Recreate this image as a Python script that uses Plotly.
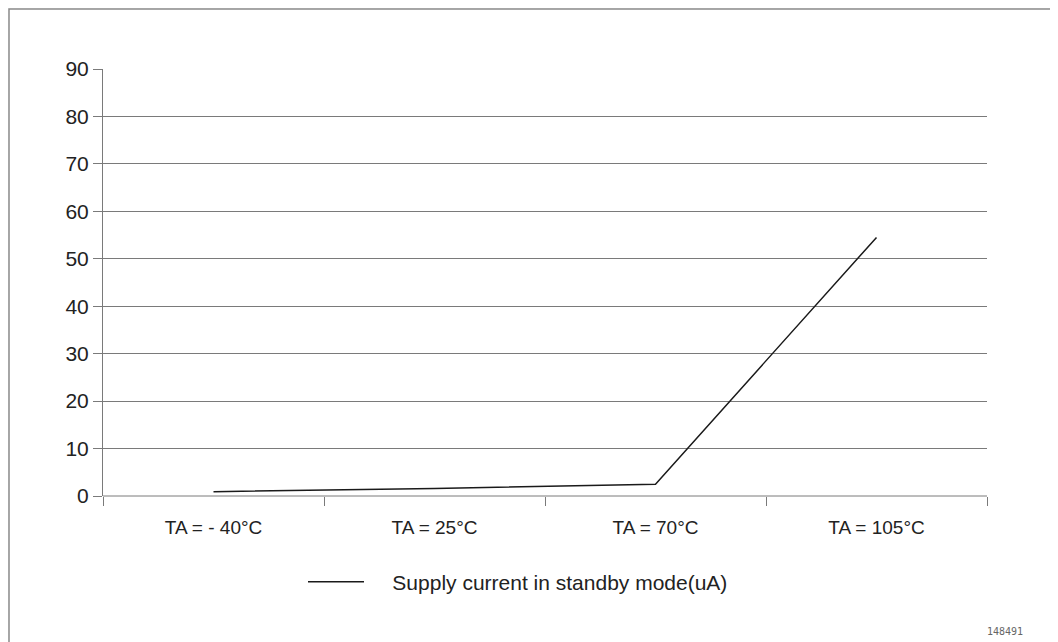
import plotly.graph_objects as go

categories = ["TA = - 40°C", "TA = 25°C", "TA = 70°C", "TA = 105°C"]
supply_current = [0.9, 1.6, 2.5, 54.5]
series_name = "Supply current in standby mode(uA)"
y_ticks = [0, 10, 20, 30, 40, 50, 60, 70, 80, 90]
figure_id = "148491"

# page is rendered with an 8px body margin, so layout is offset by 8px
OFF = 8
W, H = 1058 - OFF, 642 - OFF
L, R, T, B = 103 - OFF, W - (987 - OFF), 69 - OFF, H - (496 - OFF)
PW, PH = W - L - R, H - T - B

def px_x(px):
    return (px - OFF - L) / PW

def px_y(py):
    return (H - B - (py - OFF)) / PH

font_family = "Liberation Sans, Arial, sans-serif"
grid_col = "#7a7a7a"

fig = go.Figure()
fig.add_trace(go.Scatter(
    x=categories, y=supply_current, mode="lines",
    name="\u00a0\u00a0\u00a0\u00a0" + series_name,
    line=dict(color="#1a1a1a", width=1.5), showlegend=True,
))

fig.update_layout(
    width=W, height=H,
    margin=dict(l=L, r=R, t=T, b=B, autoexpand=False),
    paper_bgcolor="#f5f5f5",
    plot_bgcolor="rgba(0,0,0,0)",
    font=dict(family=font_family, color="#222222"),
    showlegend=True,
    legend=dict(
        orientation="h", x=px_x(518), y=px_y(582), xanchor="center", yanchor="middle",
        font=dict(size=21, family=font_family, color="#222222"),
        itemwidth=56, bgcolor="rgba(0,0,0,0)",
    ),
    xaxis=dict(
        type="category", range=[-0.5, 3.5], showgrid=False,
        showline=False, zeroline=False,
        ticks="outside", tickson="boundaries", ticklen=9, tickcolor=grid_col, tickwidth=1,
        ticklabelstandoff=18,
        tickfont=dict(size=19, family=font_family, color="#222222"),
    ),
    yaxis=dict(
        range=[0, 90], tickvals=y_ticks, showgrid=True, gridcolor=grid_col, gridwidth=1,
        showline=True, linecolor=grid_col, linewidth=1, zeroline=False,
        ticks="outside", ticklen=9, tickcolor=grid_col, tickwidth=1,
        tickfont=dict(size=21, family=font_family, color="#222222"),
    ),
    shapes=[
        dict(type="rect", xref="paper", yref="paper", layer="below",
             x0=px_x(OFF + 1), x1=px_x(1053), y0=px_y(680), y1=px_y(OFF + 1),
             fillcolor="white", line=dict(color="#8a8a8a", width=1.5)),
        dict(type="line", xref="paper", yref="paper", layer="below",
             x0=0, x1=1, y0=0, y1=0, line=dict(color=grid_col, width=1)),
    ],
    annotations=[
        dict(text=figure_id, xref="paper", yref="paper", x=px_x(1005), y=px_y(631),
             showarrow=False, xanchor="center", yanchor="middle",
             font=dict(family="DejaVu Sans Mono, monospace", size=10, color="#666666")),
    ],
)

fig.write_html("out.html")
